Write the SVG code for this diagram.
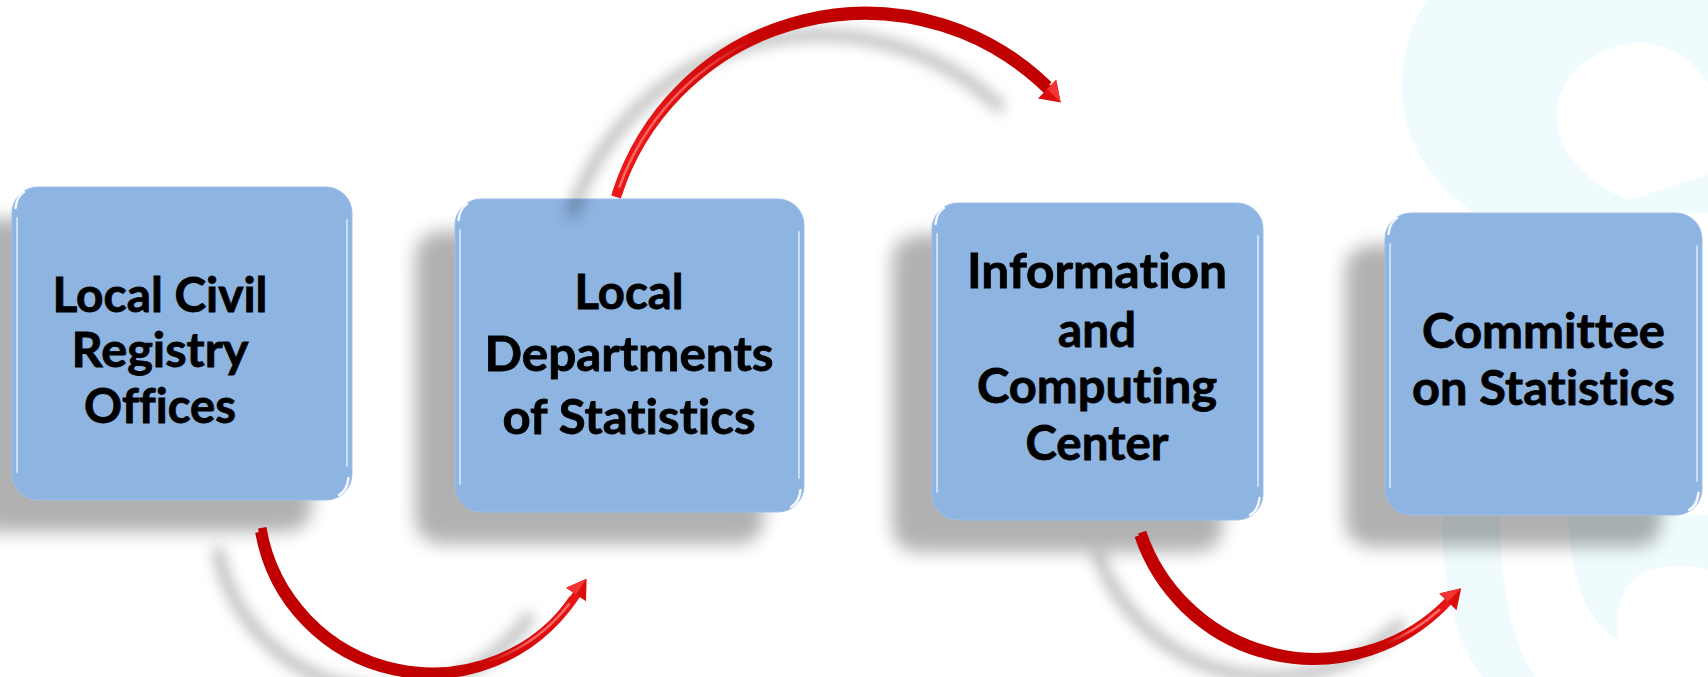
<svg xmlns="http://www.w3.org/2000/svg" width="1708" height="677" viewBox="0 0 1708 677">
<defs>
<style>
.wm{fill:#EFFBFD;}
.boxsh{fill:#000;opacity:0.3;}
.box{fill:#8EB4E2;stroke:#9DBFEA;stroke-width:1;}
.hl{fill:none;stroke:#DCEEFF;stroke-width:2;stroke-linecap:round;opacity:0.75;}
.glint{fill:none;stroke:#FFFFFF;stroke-width:2.5;stroke-linecap:round;opacity:0.9;}
.lbl{font-family:Lato,"Open Sans","Liberation Sans",sans-serif;font-weight:700;font-size:47px;fill:#000;stroke:#000;stroke-width:0.8;text-anchor:middle;font-variant-ligatures:none;font-feature-settings:"liga" 0,"clig" 0;}
.arr{fill:none;stroke-linecap:butt;}
.ash{fill:none;stroke:#000;opacity:0.28;}
.hd{fill:#DA0C0C;}
.hdl{fill:#F43434;}
.shine{fill:none;stroke-width:2.5;stroke-linecap:round;}
</style>
<filter id="blurBox" x="-20%" y="-20%" width="140%" height="140%"><feGaussianBlur stdDeviation="9"/></filter>
<filter id="blurArr" x="-20%" y="-20%" width="140%" height="140%"><feGaussianBlur stdDeviation="7"/></filter>
<linearGradient id="g1" gradientUnits="userSpaceOnUse" x1="440" y1="670" x2="576" y2="595"><stop offset="0" stop-color="#C00000"/><stop offset="1" stop-color="#E81616"/></linearGradient>
<linearGradient id="g2" gradientUnits="userSpaceOnUse" x1="640" y1="140" x2="800" y2="25"><stop offset="0" stop-color="#E81818"/><stop offset="1" stop-color="#C00000"/></linearGradient>
<linearGradient id="g3" gradientUnits="userSpaceOnUse" x1="1360" y1="652" x2="1448" y2="602"><stop offset="0" stop-color="#C00000"/><stop offset="1" stop-color="#E81616"/></linearGradient>
<linearGradient id="s1" gradientUnits="userSpaceOnUse" x1="486" y1="662" x2="569" y2="604"><stop offset="0" stop-color="#FF7070" stop-opacity="0"/><stop offset="0.5" stop-color="#FF7070" stop-opacity="0.9"/><stop offset="1" stop-color="#FF7070" stop-opacity="0.9"/></linearGradient>
<linearGradient id="s2" gradientUnits="userSpaceOnUse" x1="620" y1="187" x2="754" y2="39"><stop offset="0" stop-color="#FF7070" stop-opacity="0.9"/><stop offset="0.6" stop-color="#FF7070" stop-opacity="0.8"/><stop offset="1" stop-color="#FF7070" stop-opacity="0"/></linearGradient>
<linearGradient id="s3" gradientUnits="userSpaceOnUse" x1="1385" y1="644" x2="1440" y2="610"><stop offset="0" stop-color="#FF7070" stop-opacity="0"/><stop offset="0.5" stop-color="#FF7070" stop-opacity="0.9"/><stop offset="1" stop-color="#FF7070" stop-opacity="0.9"/></linearGradient>
</defs>
<rect x="0" y="0" width="1708" height="677" fill="#FFFFFF"/>
<g id="watermark">
<path class="wm" fill-rule="evenodd" d="M 1427 0 H 1708 V 213 H 1475 C 1425 180, 1400 130, 1402 83 C 1403 50, 1412 22, 1427 0 Z M 1708 83 C 1690 55, 1660 40, 1633 43 C 1590 48, 1555 80, 1557 117 C 1558 150, 1585 185, 1630 200 C 1660 190, 1690 180, 1708 175 Z"/>
<path class="wm" d="M 1443 515 C 1440 580, 1455 640, 1482 677 H 1535 C 1510 640, 1500 580, 1500 515 Z"/>
<path class="wm" d="M 1568 515 H 1708 V 570 C 1680 562, 1640 565, 1625 590 C 1615 610, 1615 630, 1620 640 C 1590 625, 1572 590, 1568 515 Z"/>
</g>
<g id="node-1">
<rect class="boxsh" x="-28" y="219" width="340" height="313" rx="26" filter="url(#blurBox)"/>
<rect class="box" x="12" y="187" width="340" height="313" rx="26"/>
<path class="hl" d="M 17 218 V 472"/>
<path class="hl" d="M 347 220 V 466"/>
<path class="glint" d="M 15.5 208 Q 17 196 24 192"/>
<path class="glint" d="M 348.5 478 Q 347 491 339 495"/>
<text class="lbl" x="160" y="312" textLength="215" lengthAdjust="spacingAndGlyphs">Local Civil</text>
<text class="lbl" x="160" y="367" textLength="177" lengthAdjust="spacingAndGlyphs">Registry</text>
<text class="lbl" x="160" y="423" textLength="152" lengthAdjust="spacingAndGlyphs">Offices</text>
</g>
<g id="node-2">
<rect class="boxsh" x="415" y="231" width="349" height="313" rx="26" filter="url(#blurBox)"/>
<rect class="box" x="455" y="199" width="349" height="313" rx="26"/>
<path class="hl" d="M 460 230 V 484"/>
<path class="hl" d="M 799 232 V 478"/>
<path class="glint" d="M 458.5 220 Q 460 208 467 204"/>
<path class="glint" d="M 800.5 490 Q 799 503 791 507"/>
<text class="lbl" x="629" y="309" textLength="109" lengthAdjust="spacingAndGlyphs">Local</text>
<text class="lbl" x="629" y="371" textLength="289" lengthAdjust="spacingAndGlyphs">Departments</text>
<text class="lbl" x="629" y="434" textLength="253" lengthAdjust="spacingAndGlyphs">of Statistics</text>
</g>
<g id="node-3">
<rect class="boxsh" x="892" y="235" width="331" height="317" rx="26" filter="url(#blurBox)"/>
<rect class="box" x="932" y="203" width="331" height="317" rx="26"/>
<path class="hl" d="M 937 234 V 492"/>
<path class="hl" d="M 1258 236 V 486"/>
<path class="glint" d="M 935.5 224 Q 937 212 944 208"/>
<path class="glint" d="M 1259.5 498 Q 1258 511 1250 515"/>
<text class="lbl" x="1097" y="288" textLength="260" lengthAdjust="spacingAndGlyphs">Information</text>
<text class="lbl" x="1097" y="347" textLength="78" lengthAdjust="spacingAndGlyphs">and</text>
<text class="lbl" x="1097" y="403" textLength="240" lengthAdjust="spacingAndGlyphs">Computing</text>
<text class="lbl" x="1097" y="460" textLength="143" lengthAdjust="spacingAndGlyphs">Center</text>
</g>
<g id="node-4">
<rect class="boxsh" x="1345" y="245" width="317" height="302" rx="26" filter="url(#blurBox)"/>
<rect class="box" x="1385" y="213" width="317" height="302" rx="26"/>
<path class="hl" d="M 1390 244 V 487"/>
<path class="hl" d="M 1697 246 V 481"/>
<path class="glint" d="M 1388.5 234 Q 1390 222 1397 218"/>
<path class="glint" d="M 1698.5 493 Q 1697 506 1689 510"/>
<text class="lbl" x="1543.5" y="348" textLength="243" lengthAdjust="spacingAndGlyphs">Committee</text>
<text class="lbl" x="1543.5" y="405" textLength="263" lengthAdjust="spacingAndGlyphs">on Statistics</text>
</g>
<g id="connectors">
<g id="arrow-shadows" transform="translate(-45,20)" filter="url(#blurArr)">
<path class="ash" stroke-width="11" d="M 262.2 527.8 A 173 173 0 0 0 576 594.5"/>
<path class="ash" stroke-width="11" d="M 616 197 A 261 261 0 0 1 1047.1 89.1"/>
<path class="ash" stroke-width="11" d="M 1142.1 532.1 A 184 184 0 0 0 1447.9 601.8"/>
</g>
<g id="arrow-1">
<path class="arr" stroke="url(#g1)" stroke-width="8.5" d="M 262.2 527.8 A 173 173 0 0 0 577 594"/>
<path class="arr" stroke="url(#g1)" stroke-width="8.5" d="M 259.4 532 A 173 173 0 0 0 573.2 598.7"/>
<path class="shine" stroke="url(#s1)" d="M 486.1 662.3 A 173 173 0 0 0 568.9 604.3"/>
<polygon class="hd" points="586.6,578.7 566.1,587.8 586,601.2"/>
<polygon class="hdl" points="586.6,578.7 566.1,587.8 576,594.5"/>
</g>
<g id="arrow-2">
<path class="arr" stroke="url(#g2)" stroke-width="10" d="M 616 197 A 261 261 0 0 1 1048 90"/>
<path class="arr" stroke="url(#g2)" stroke-width="10" d="M 617 193.8 A 261 261 0 0 1 1048.1 85.9"/>
<path class="shine" stroke="url(#s2)" d="M 619.5 186.6 A 261 261 0 0 1 754.5 39.4"/>
<polygon class="hd" points="1060.7,102.4 1056.2,79.8 1038,98.4"/>
<polygon class="hdl" points="1060.7,102.4 1056.2,79.8 1047.1,89.1"/>
</g>
<g id="arrow-3">
<path class="arr" stroke="url(#g3)" stroke-width="8.5" d="M 1142.1 532.1 A 184 184 0 0 0 1448.6 601"/>
<path class="arr" stroke="url(#g3)" stroke-width="8.5" d="M 1138.6 535.7 A 184 184 0 0 0 1444.4 605.4"/>
<path class="shine" stroke="url(#s3)" d="M 1385.3 643.7 A 184 184 0 0 0 1439.5 609.8"/>
<polygon class="hd" points="1461.2,588.2 1439.3,593.4 1456.5,610.2"/>
<polygon class="hdl" points="1461.2,588.2 1439.3,593.4 1447.9,601.8"/>
</g>
</g>
</svg>
